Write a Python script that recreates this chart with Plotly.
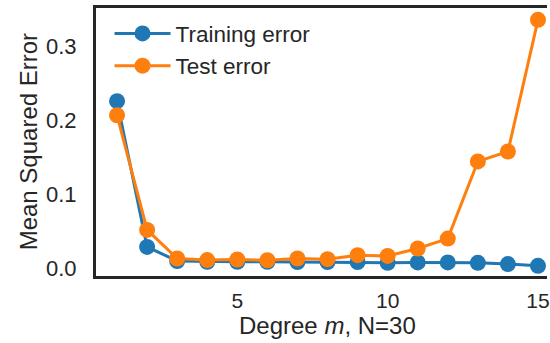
import plotly.graph_objects as go

# Polynomial degree vs. mean squared error (N=30 samples)
degrees = list(range(1, 16))
train_mse = [0.226, 0.029, 0.010, 0.009, 0.009, 0.009, 0.0085, 0.0085,
             0.0085, 0.0075, 0.008, 0.008, 0.0075, 0.0058, 0.0035]
test_mse = [0.207, 0.052, 0.0134, 0.0112, 0.012, 0.011, 0.0134, 0.0125,
            0.0179, 0.0168, 0.0269, 0.0403, 0.1446, 0.158, 0.336]
y_ticks = [0.0, 0.1, 0.2, 0.3]
x_ticks = [5, 10, 15]

BLUE = "#1f77b4"
ORANGE = "#ff7f0e"
INK = "#262626"
FONT = "Liberation Sans, Arial, sans-serif"

fig = go.Figure()
fig.add_trace(go.Scatter(
    x=degrees, y=train_mse, mode="lines+markers", name="Training error",
    line=dict(color=BLUE, width=3), marker=dict(color=BLUE, size=16),
    cliponaxis=False,
))
fig.add_trace(go.Scatter(
    x=degrees, y=test_mse, mode="lines+markers", name="Test error",
    line=dict(color=ORANGE, width=3), marker=dict(color=ORANGE, size=16),
    cliponaxis=False,
))

fig.update_layout(
    width=550, height=343,
    margin=dict(l=96, r=0, t=8, b=67),
    paper_bgcolor="white", plot_bgcolor="white",
    font=dict(family=FONT, color=INK, size=22),
    showlegend=True,
    legend=dict(x=0.03, y=0.984, xanchor="left", yanchor="top",
                itemwidth=56,
                bgcolor="rgba(0,0,0,0)", font=dict(size=22.5, color=INK)),
    annotations=[
        dict(text="Degree <i>m</i>, N=30", xref="paper", yref="paper",
             x=0.513, y=-0.186, xanchor="center", yanchor="middle",
             showarrow=False, font=dict(size=24, color=INK)),
        dict(text="Mean Squared Error", xref="paper", yref="paper",
             x=-0.15, y=0.5, xanchor="center", yanchor="middle",
             textangle=-90, showarrow=False, font=dict(size=24, color=INK)),
    ],
)
fig.update_xaxes(
    range=[0.3, 15.3], tickvals=x_ticks, ticktext=[str(v) for v in x_ticks],
    tickfont=dict(size=21),
    showgrid=False, zeroline=False,
    showline=True, linecolor=INK, linewidth=3, mirror=True,
    ticks="outside", ticklen=4, tickcolor="rgba(0,0,0,0)",
    ticklabeloverflow="allow",
)
fig.update_yaxes(
    range=[-0.0103, 0.352], tickvals=y_ticks,
    ticktext=[f"{v:.1f}" for v in y_ticks],
    showgrid=False, zeroline=False,
    showline=True, linecolor=INK, linewidth=3, mirror=False,
    ticks="outside", ticklen=12, tickcolor="rgba(0,0,0,0)",
)

fig.write_html("out.html")
